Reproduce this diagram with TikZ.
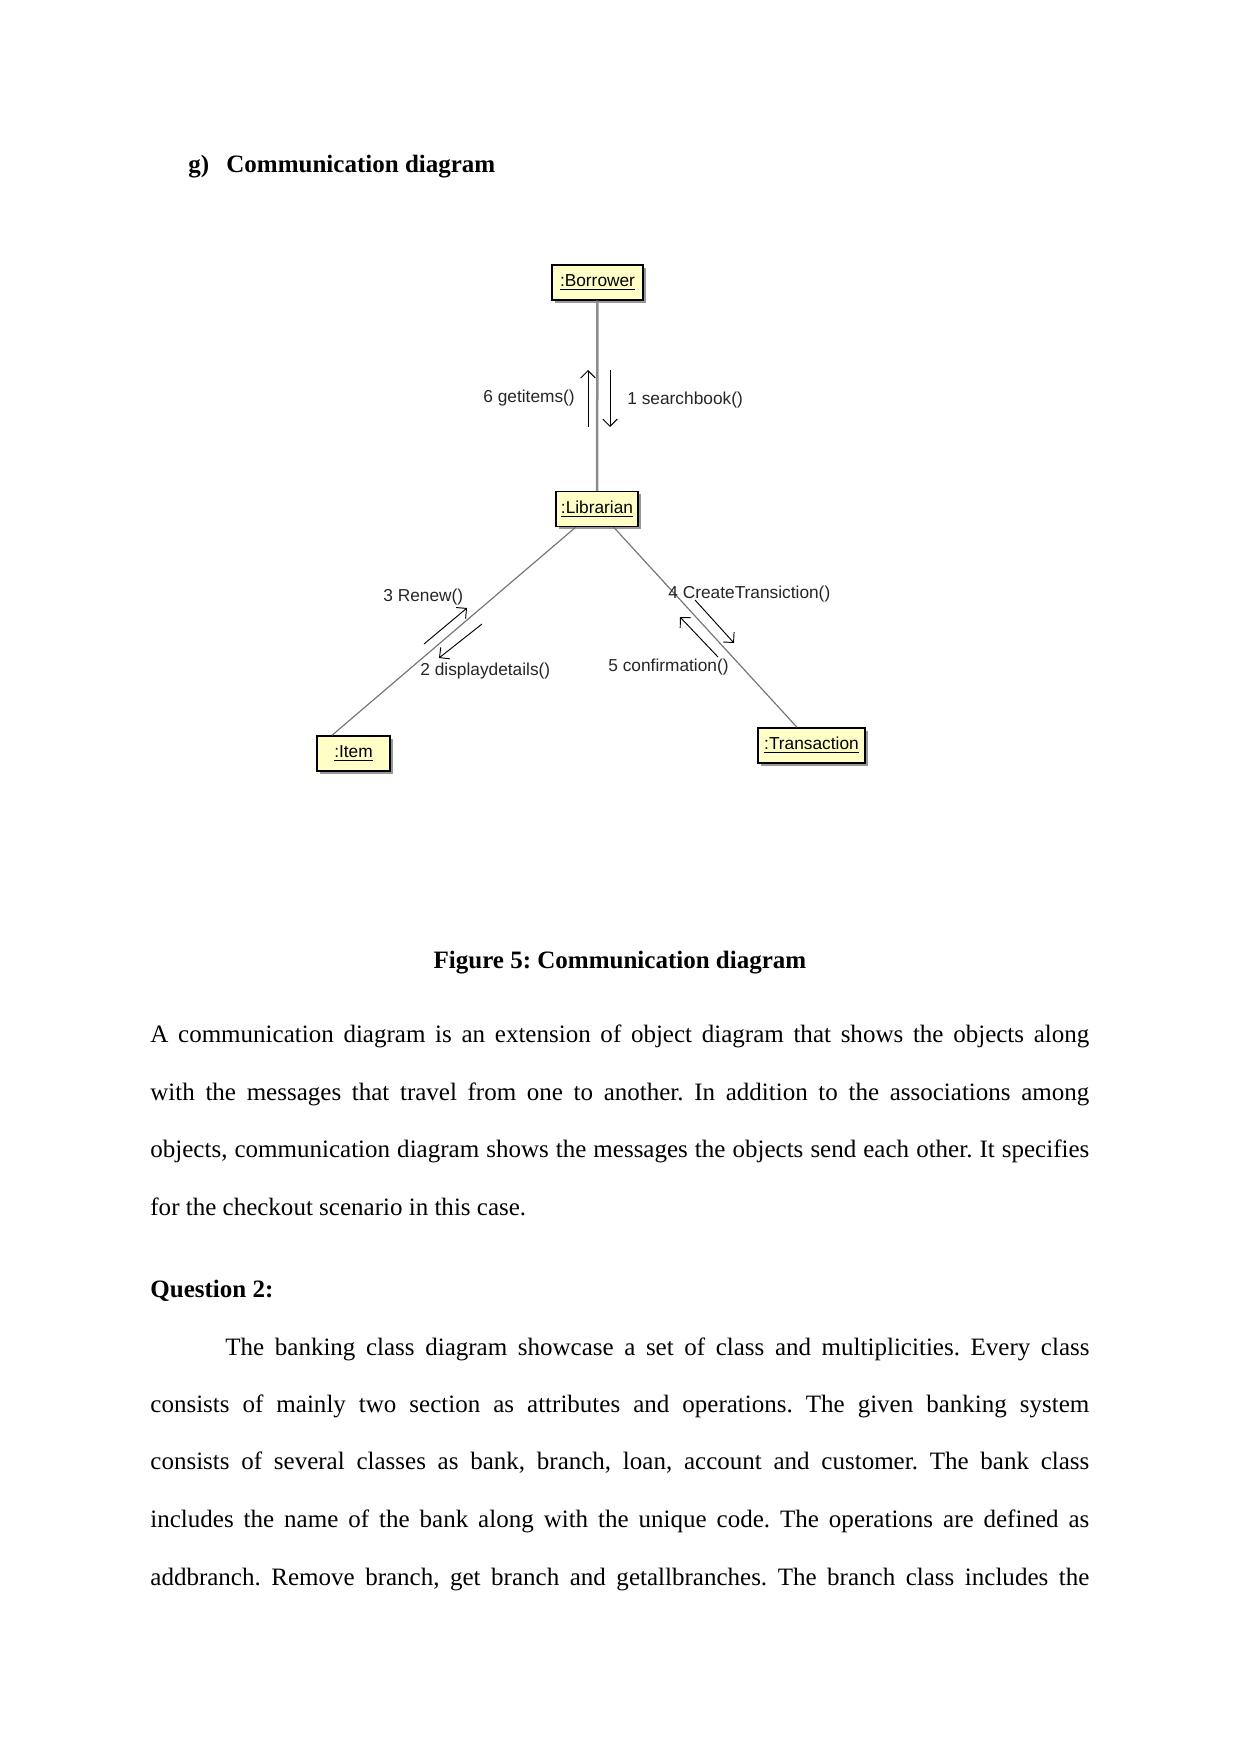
\documentclass[tikz,border=0pt]{standalone}
\usepackage{fontspec}
\setmainfont{Liberation Serif}
\newfontfamily\umlfont{Liberation Sans}
\usepackage{xcolor}
\definecolor{boxyellow}{HTML}{FFFFC6}
\colorlet{linkgray}{black!55}
\colorlet{lifegray}{black!45}
\usepackage{tikz}
\usetikzlibrary{arrows.meta}
\usetikzlibrary{calc}
\usetikzlibrary{shadows}
\frenchspacing
\newdimen\upx \upx=0.4797pt
\tikzset{
  objbox/.style={draw=black, line width=0.7pt, fill=boxyellow, minimum height=35\upx,
    inner sep=0pt, font=\umlfont\fontsize{8.3}{10}\selectfont,
    drop shadow={shadow xshift=1.4pt, shadow yshift=-1.4pt, fill=black!40, opacity=1}},
  msg/.style={anchor=west, inner sep=0pt, text=black!85, font=\umlfont\fontsize{8.3}{10}\selectfont},
  msgarrow/.style={-{Straight Barb[length=3.5pt,width=7pt]}, line width=0.45pt},
  bodyline/.style={anchor=base west, inner sep=0pt, font=\fontsize{12}{14}\selectfont},
}
\begin{document}
\begin{tikzpicture}[x=1\upx, y=-1\upx]
      \path[fill=white] (0,0) rectangle (1241,1754);
      \useasboundingbox (0,0) rectangle (1241,1754);

      % heading
      \node[bodyline, font=\bfseries\fontsize{12}{14}\selectfont] (gmark) at (188,173) {g)};
      \node[bodyline, font=\bfseries\fontsize{12}{14}\selectfont] (gtitle) at (226,173) {Communication diagram};

      % objects
      \node[objbox, minimum width=91\upx] (bor) at (597.5,282.5) {\underline{:Borrower}};
      \node[objbox, minimum width=82\upx] (lib) at (597,509) {\underline{:Librarian}};
      \node[objbox, minimum width=73\upx] (item) at (353.5,753.5) {\underline{:Item}};
      \node[objbox, minimum width=107\upx] (trans) at (811.5,745.5) {\underline{:Transaction}};

      \coordinate (itemend) at ($(item.north)+(-21.5,0)$);
      \coordinate (transend) at ($(trans.north)+(-14.5,0)$);
      \draw[lifegray, line width=1.2pt] (bor) -- (lib);
      \draw[linkgray, line width=0.55pt] (lib) -- (itemend);
      \draw[linkgray, line width=0.55pt] (lib) -- (transend);

      % messages
      \coordinate (m6a) at (588,427);
      \coordinate (m6b) at (588,370);
      \coordinate (m1a) at (610,370);
      \coordinate (m1b) at (610,427);
      \coordinate (m3a) at (424,644);
      \coordinate (m3b) at (467,608);
      \coordinate (m2a) at (482,624);
      \coordinate (m2b) at (439,658);
      \coordinate (m4a) at (695,600);
      \coordinate (m4b) at (734,643);
      \coordinate (m5a) at (718,657);
      \coordinate (m5b) at (680,617);
      \foreach \s/\t in {m6a/m6b,m1a/m1b,m3a/m3b,m2a/m2b,m4a/m4b,m5a/m5b}
        \draw[msgarrow] (\s) -- (\t);

      \node[msg] (l6) at (483,398) {6 getitems()};
      \node[msg] (l1) at (627,400) {1 searchbook()};
      \node[msg] (l3) at (383,597) {3 Renew()};
      \node[msg] (l2) at (420,671) {2 displaydetails()};
      \node[msg] (l4) at (668,594) {4 CreateTransiction()};
      \node[msg] (l5) at (608,667) {5 confirmation()};

      % caption and text
      \node[bodyline, anchor=base, font=\bfseries\fontsize{12}{14}\selectfont] (caption) at (620,968) {Figure 5: Communication diagram};

      \node[bodyline] (p1a) at (150,1042) {\makebox[450.4pt][s]{A communication diagram is an extension of object diagram that shows the objects along}};
      \node[bodyline] (p1b) at (150,1100) {\makebox[450.4pt][s]{with the messages that travel from one to another. In addition to the associations among}};
      \node[bodyline] (p1c) at (150,1157) {\makebox[450.4pt][s]{objects, communication diagram shows the messages the objects send each other. It specifies}};
      \node[bodyline] (p1d) at (150,1215) {for the checkout scenario in this case.};

      \node[bodyline, font=\bfseries\fontsize{12}{14}\selectfont] (q2) at (150,1297) {Question 2:};

      \node[bodyline] (p2a) at (225,1355) {\makebox[414.5pt][s]{The banking class diagram showcase a set of class and multiplicities. Every class}};
      \node[bodyline] (p2b) at (150,1412) {\makebox[450.4pt][s]{consists of mainly two section as attributes and operations. The given banking system}};
      \node[bodyline] (p2c) at (150,1469) {\makebox[450.4pt][s]{consists of several classes as bank, branch, loan, account and customer. The bank class}};
      \node[bodyline] (p2d) at (150,1527) {\makebox[450.4pt][s]{includes the name of the bank along with the unique code. The operations are defined as}};
      \node[bodyline] (p2e) at (150,1585) {\makebox[450.4pt][s]{addbranch. Remove branch, get branch and getallbranches. The branch class includes the}};
    \end{tikzpicture}
\end{document}
